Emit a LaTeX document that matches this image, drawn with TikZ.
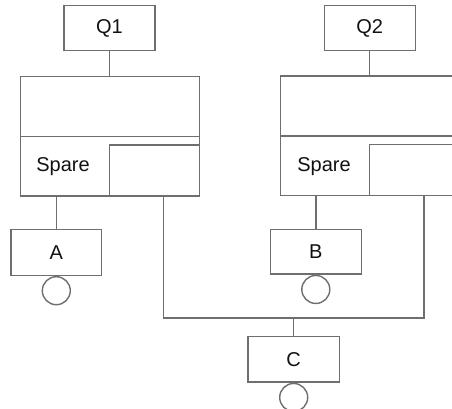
\documentclass[tikz,border=0pt]{standalone}
\usepackage{fontspec}
\setmainfont{Liberation Sans}
\definecolor{ln}{HTML}{6E6E6E}
\definecolor{tx}{HTML}{111111}
\begin{document}
\begin{tikzpicture}[x=1pt,y=-1pt,
  box/.style={draw=ln,line width=1.4pt,rectangle,inner sep=0pt,text=tx,font=\fontsize{20}{24}\selectfont},
  lbl/.style={inner sep=0pt,text=tx,font=\fontsize{20}{24}\selectfont},
  lamp/.style={draw=ln,line width=1.4pt,circle,minimum size=28pt,inner sep=0pt},
  wire/.style={draw=ln,line width=1.4pt}]
\useasboundingbox (0,0) rectangle (452,409);
\clip (0,0) rectangle (452,409);
% left group
\node[box,minimum width=91pt,minimum height=45pt] (Q1) at (109.5,28.2) {Q1};
\node[box,minimum width=178.6pt,minimum height=60pt] (T1) at (110,106.3) {};
\node[box,minimum width=178.6pt,minimum height=59.7pt] (S1) at (110,166.15) {};
\node[box,minimum width=89.6pt,minimum height=51pt] (I1) at (154.5,170.5) {};
\node[lbl] (sp1) at (63,167) {Spare};
% right group
\node[box,minimum width=91pt,minimum height=45pt] (Q2) at (369.7,28.2) {Q2};
\node[box,minimum width=178.7pt,minimum height=60pt] (T2) at (369.65,106.2) {};
\node[box,minimum width=178.7pt,minimum height=59.5pt] (S2) at (369.65,165.75) {};
\node[box,minimum width=89.3pt,minimum height=51pt] (I2) at (414.35,170) {};
\node[lbl] (sp2) at (324,167) {Spare};
% leaves
\node[box,minimum width=90.7pt,minimum height=46pt] (A) at (56.3,252.3) {A};
\node[lamp,anchor=north] (a) at (A.south) {};
\node[box,minimum width=91pt,minimum height=44.7pt] (B) at (315.8,251.7) {B};
\node[lamp,anchor=north] (b) at (B.south) {};
\node[box,minimum width=91.3pt,minimum height=45.7pt] (C) at (293.7,359.2) {C};
\node[lamp,anchor=north] (c) at (C.south) {};
% wires
\draw[wire] (Q1.south) -- (Q1.south |- T1.north);
\draw[wire] (Q2.south) -- (Q2.south |- T2.north);
\draw[wire] (A.north) -- (A.north |- S1.south);
\draw[wire] (B.north) -- (B.north |- S2.south);
\coordinate (j1) at (163.7,318);
\coordinate (j2) at (424,318);
\coordinate (J) at (293.7,318);
\draw[wire] (j1 |- I1.south) -- (j1) -- (j2) -- (j2 |- I2.south);
\draw[wire] (J) -- (C.north);
\end{tikzpicture}
\end{document}
